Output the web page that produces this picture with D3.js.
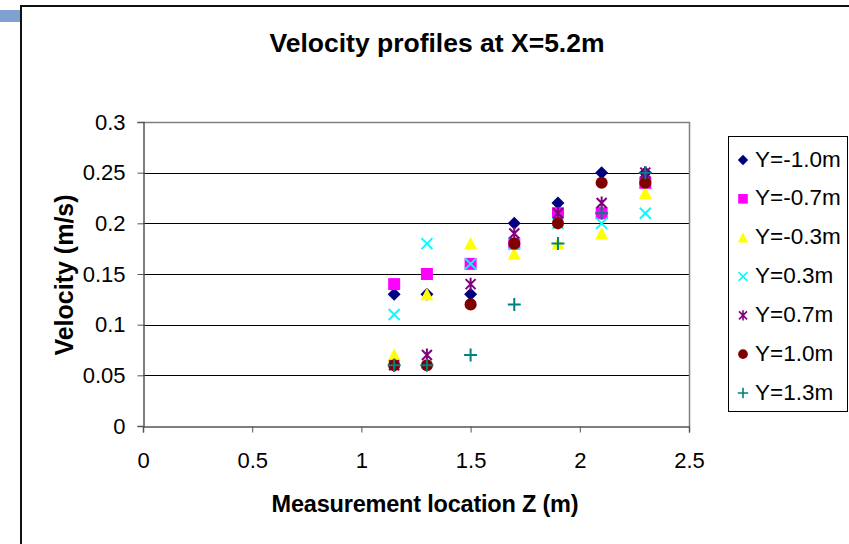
<!DOCTYPE html>
<html lang="en">
<head>
<meta charset="utf-8">
<title>Velocity profiles at X=5.2m</title>
<script src="https://cdn.jsdelivr.net/npm/d3@7"></script>
<style>
  body { margin: 0; background: #fff; }
  text { font-family: "Liberation Sans", Arial, sans-serif; }
</style>
</head>
<body>
<script>
// measurement locations along Z (m)
var zLocations = [1.15, 1.3, 1.5, 1.7, 1.9, 2.1, 2.3];

// velocities (m/s) for each lateral position Y
var seriesNames = ["Y=-1.0m", "Y=-0.7m", "Y=-0.3m", "Y=0.3m", "Y=0.7m", "Y=1.0m", "Y=1.3m"];
var velYm10 = [0.13, 0.13, 0.13, 0.20, 0.22, 0.25, 0.25];
var velYm07 = [0.14, 0.15, 0.16, 0.18, 0.21, 0.21, 0.24];
var velYm03 = [0.07, 0.13, 0.18, 0.17, 0.18, 0.19, 0.23];
var velY03  = [0.11, 0.18, 0.16, 0.18, 0.20, 0.20, 0.21];
var velY07  = [0.06, 0.07, 0.14, 0.19, 0.21, 0.22, 0.25];
var velY10  = [0.06, 0.06, 0.12, 0.18, 0.20, 0.24, 0.24];
var velY13  = [0.06, 0.06, 0.07, 0.12, 0.18, 0.21, 0.25];

var xTicks = [0, 0.5, 1, 1.5, 2, 2.5];
var yTicks = [0, 0.05, 0.1, 0.15, 0.2, 0.25, 0.3];

var seriesValues = [velYm10, velYm07, velYm03, velY03, velY07, velY10, velY13];
var seriesColors = ["#000080", "#ff00ff", "#ffff00", "#00ffff", "#800080", "#800000", "#008080"];
var seriesShapes = ["diamond", "square", "triangle", "cross", "star", "circle", "plus"];

var width = 849, height = 544;
var plot = {left: 143, right: 689, top: 122, bottom: 426};

var svg = d3.select("body").append("svg")
    .attr("width", width)
    .attr("height", height);

// chart frame (left & top edges visible), blue tab on the left
svg.append("rect").attr("x", 0).attr("y", 10).attr("width", 20).attr("height", 12).attr("fill", "#7ea1cf");
svg.append("path").attr("d", "M21,544 V6 H849").attr("fill", "none").attr("stroke", "#111").attr("stroke-width", 2);

var x = d3.scaleLinear().domain([0, 2.5]).range([plot.left, plot.right]);
var y = d3.scaleLinear().domain([0, 0.3]).range([plot.bottom, plot.top]);

// gridlines
svg.append("g").selectAll("line")
    .data(yTicks.filter(function(d) { return d > 0 && d < 0.3; }))
    .enter().append("line")
    .attr("x1", plot.left).attr("x2", plot.right)
    .attr("y1", function(d) { return Math.round(y(d)) + 0.5; })
    .attr("y2", function(d) { return Math.round(y(d)) + 0.5; })
    .attr("stroke", "#000").attr("stroke-width", 1);

// plot area border (top/right)
svg.append("path")
    .attr("d", "M" + (plot.left + 0.5) + "," + (plot.top + 0.5) + " H" + (plot.right + 0.5) + " V" + (plot.bottom + 0.5))
    .attr("fill", "none").attr("stroke", "#808080").attr("stroke-width", 1.5);

// axes
var xAxis = svg.append("g")
    .attr("transform", "translate(0," + (plot.bottom + 0.5) + ")")
    .call(d3.axisBottom(x).tickValues(xTicks).tickSize(6).tickPadding(20)
        .tickFormat(function(d) { return String(d); }));
var yAxis = svg.append("g")
    .attr("transform", "translate(" + (plot.left + 0.5) + ",0)")
    .call(d3.axisLeft(y).tickValues(yTicks).tickSize(6).tickPadding(12)
        .tickFormat(function(d) { return String(d); }));

[xAxis, yAxis].forEach(function(a) {
    a.select(".domain").attr("stroke", "#555").attr("stroke-width", 1.5);
    a.selectAll(".tick line").attr("stroke", "#555");
    a.selectAll(".tick text").attr("fill", "#000")
        .attr("font-family", "'Liberation Sans', Arial, sans-serif")
        .attr("font-size", 22);
});

// marker path generator
function markerPath(shape) {
    switch (shape) {
        case "diamond": return "M0,-6.5 L6.5,0 L0,6.5 L-6.5,0 Z";
        case "square": return "M-6,-6 H6 V6 H-6 Z";
        case "triangle": return "M0,-6.5 L6.5,6 L-6.5,6 Z";
        case "cross": return "M-5.5,-5.5 L5.5,5.5 M-5.5,5.5 L5.5,-5.5";
        case "star": return "M-5,-5 L5,5 M-5,5 L5,-5 M0,-6.5 V6.5";
        case "circle": return d3.symbol(d3.symbolCircle, 115)();
        case "plus": return "M-6.5,0 H6.5 M0,-6.5 V6.5";
    }
}
function isLine(shape) {
    return shape === "cross" || shape === "star" || shape === "plus";
}

function drawMarker(sel, i) {
    var shape = seriesShapes[i], col = seriesColors[i];
    sel.attr("d", markerPath(shape))
        .attr("fill", isLine(shape) ? "none" : col)
        .attr("stroke", isLine(shape) ? col : "none")
        .attr("stroke-width", isLine(shape) ? 2 : 0);
}

// points, drawn in series order so later series sit on top
seriesValues.forEach(function(vals, i) {
    svg.append("g").selectAll("path")
        .data(vals)
        .enter().append("path")
        .attr("transform", function(d, j) { return "translate(" + x(zLocations[j]) + "," + y(d) + ")"; })
        .call(drawMarker, i);
});

// title
svg.append("text")
    .attr("x", 437).attr("y", 52)
    .attr("text-anchor", "middle")
    .style("font-size", "26.5px").style("font-weight", "bold")
    .text("Velocity profiles at X=5.2m");

// axis titles
svg.append("text")
    .attr("x", 425).attr("y", 512)
    .attr("text-anchor", "middle")
    .style("font-size", "23.5px").style("font-weight", "bold")
    .style("letter-spacing", "-0.2px")
    .text("Measurement location Z (m)");
svg.append("text")
    .attr("transform", "translate(73,275) rotate(-90)")
    .attr("text-anchor", "middle")
    .style("font-size", "25px").style("font-weight", "bold")
    .text("Velocity (m/s)");

// legend
var legend = svg.append("g");
legend.append("rect")
    .attr("x", 728.5).attr("y", 136.5).attr("width", 119).attr("height", 275)
    .attr("fill", "#fff").attr("stroke", "#000").attr("stroke-width", 1);
var legendY = d3.scalePoint().domain(seriesNames).range([159, 392]);
seriesNames.forEach(function(name, i) {
    var g = legend.append("g").attr("transform", "translate(0," + legendY(name) + ")");
    g.append("path")
        .attr("transform", "translate(743,1) scale(0.8)")
        .call(drawMarker, i);
    g.append("text")
        .attr("x", 755).attr("y", 7.5)
        .style("font-size", "22.5px")
        .text(name);
});
</script>
</body>
</html>
